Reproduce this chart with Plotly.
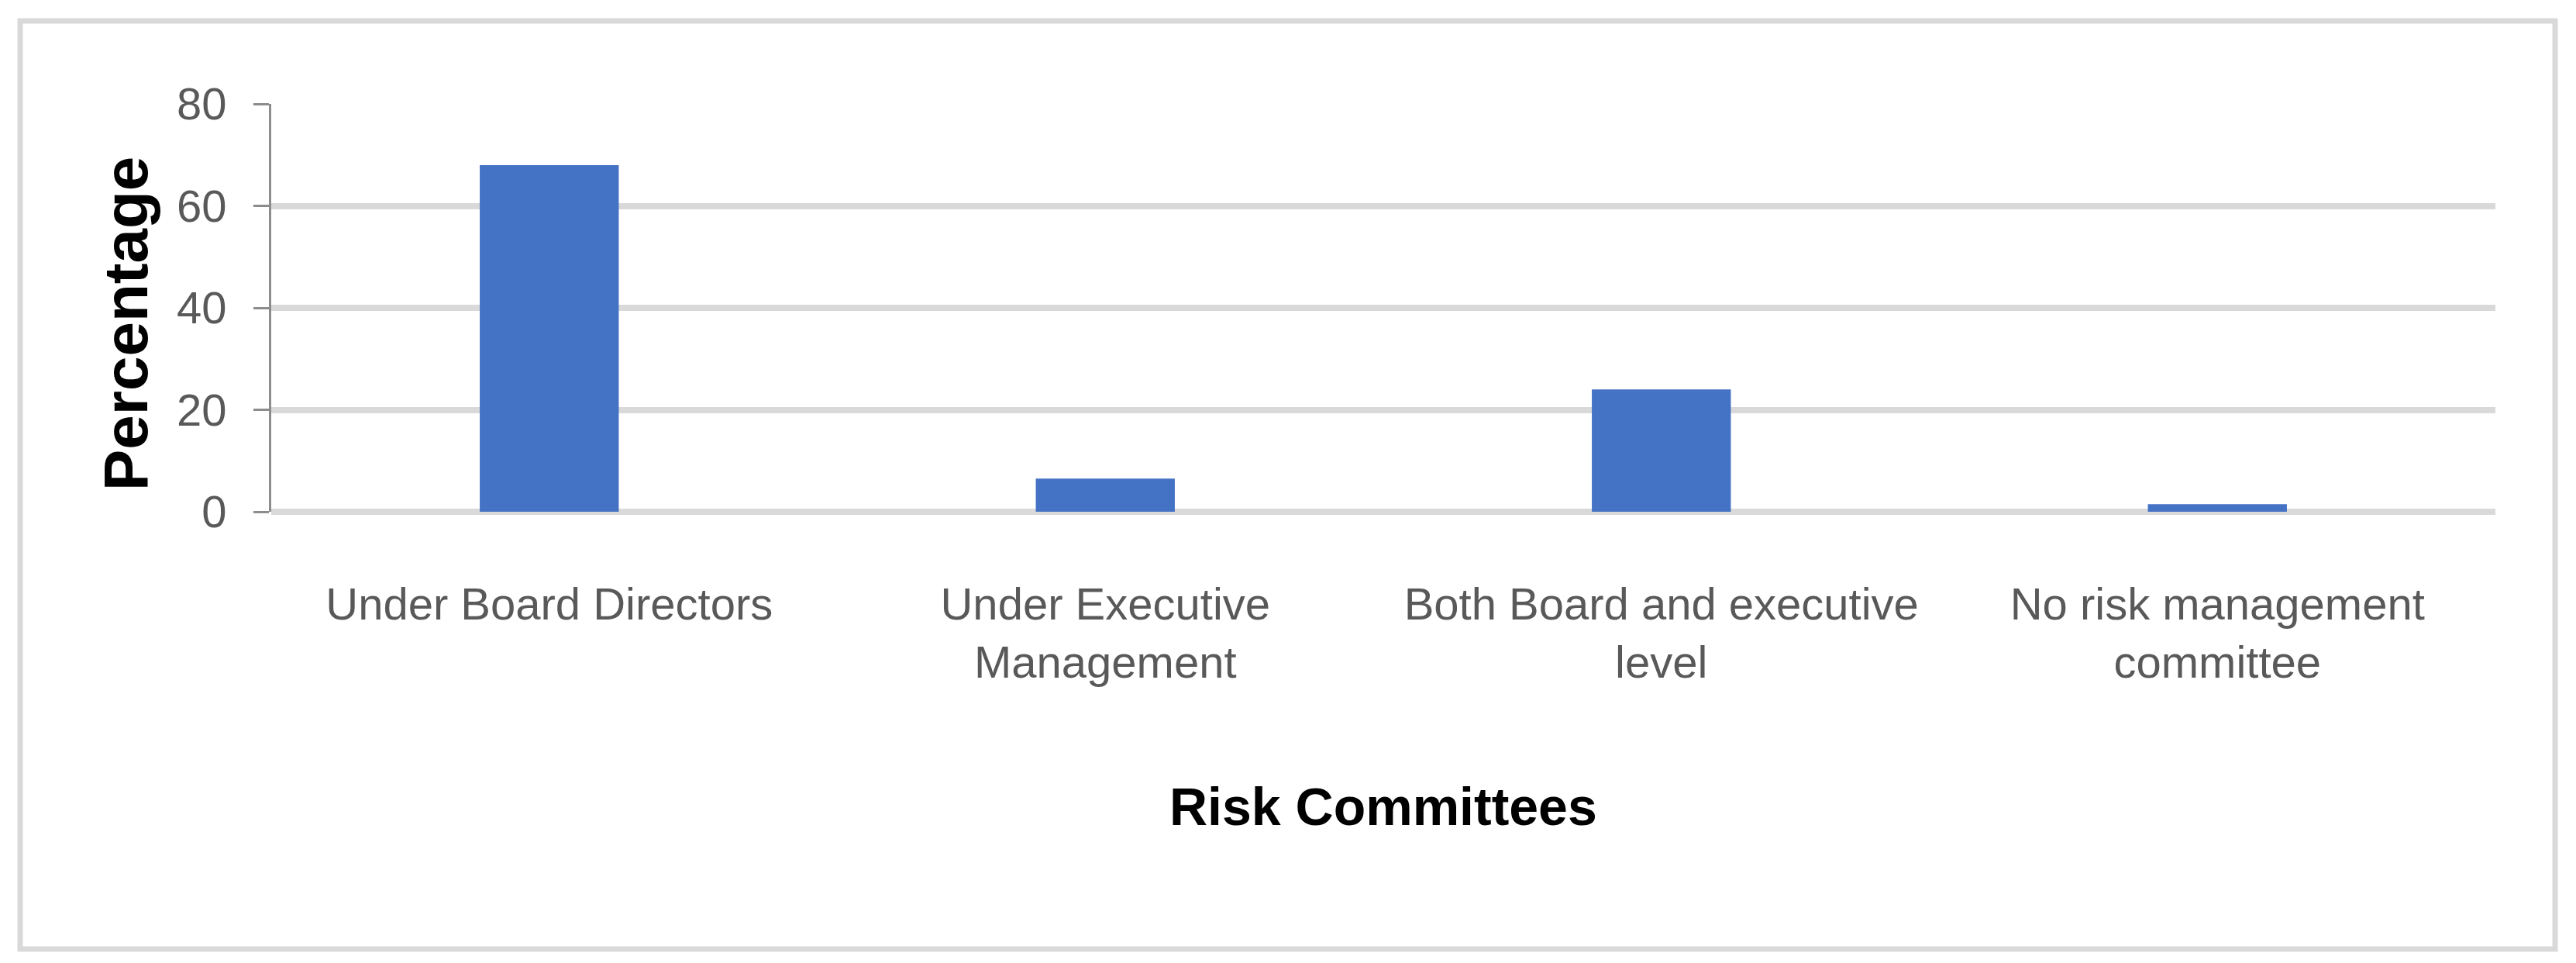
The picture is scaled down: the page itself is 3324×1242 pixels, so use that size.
import plotly.graph_objects as go

# ---- data ----
categories = ["Under Board Directors", "Under Executive Management",
              "Both Board and executive level", "No risk management committee"]
tick_labels = ["Under Board Directors", "Under Executive<br>Management",
               "Both Board and executive<br>level", "No risk management<br>committee"]
percentages = [68, 6.5, 24, 1.5]
y_ticks = [0, 20, 40, 60, 80]

# ---- layout constants (page pixels; the page body has an 8px margin) ----
OFF = 8
W, H = 3324 - OFF, 1242 - OFF
L, R, T, B = 350 - OFF, 3220 - OFF, 134 - OFF, 660 - OFF   # plot area edges in figure coords
PW, PH = R - L, B - T

def px(x):   # page pixel -> paper x
    return (x - OFF - L) / PW

def py(y):   # page pixel -> paper y
    return (B - (y - OFF)) / PH

FONT = "Liberation Sans Narrow, Arial Narrow, Liberation Sans, Arial, sans-serif"
GRID = "#D9D9D9"

fig = go.Figure()
fig.add_trace(go.Bar(
    x=categories, y=percentages,
    marker=dict(color="#4472C4", line=dict(width=0)),
    width=0.25,
))

fig.update_layout(
    width=W, height=H,
    margin=dict(l=L, r=W - R, t=T, b=H - B, pad=0),
    paper_bgcolor="white", plot_bgcolor="white",
    showlegend=False,
    font=dict(family=FONT, color="#595959"),
)

fig.update_xaxes(
    type="category",
    tickvals=categories, ticktext=tick_labels,
    tickangle=0,
    tickfont=dict(size=58, color="#595959", family=FONT),
    ticks="", showline=False, showgrid=False, zeroline=False,
    ticklabelstandoff=80,
)

fig.update_yaxes(
    range=[0, 80],
    tickvals=y_ticks,
    tickfont=dict(size=58, color="#595959", family=FONT),
    showgrid=True, gridcolor=GRID, gridwidth=8,
    zeroline=True, zerolinecolor=GRID, zerolinewidth=8,
    showline=True, linecolor="#8C8C8C", linewidth=3,
    ticks="outside", ticklen=20, tickwidth=3, tickcolor="#8C8C8C",
    ticklabelstandoff=23,
)

# axis titles
fig.add_annotation(
    text="<b>Percentage</b>", textangle=-90,
    xref="paper", yref="paper", x=px(162), y=py(418),
    xanchor="center", yanchor="middle", showarrow=False,
    font=dict(size=80, color="black", family="Liberation Sans, Arial, sans-serif"),
)
fig.add_annotation(
    text="<b>Risk Committees</b>",
    xref="paper", yref="paper", x=px(1785), y=py(1040),
    xanchor="center", yanchor="middle", showarrow=False,
    font=dict(size=68, color="black", family=FONT),
)

# outer chart border
fig.add_shape(
    type="rect", xref="paper", yref="paper",
    x0=px(26), x1=px(3297), y0=py(27), y1=py(1224),
    line=dict(color=GRID, width=7), fillcolor="rgba(0,0,0,0)", layer="below",
)

fig.write_html("out.html")
